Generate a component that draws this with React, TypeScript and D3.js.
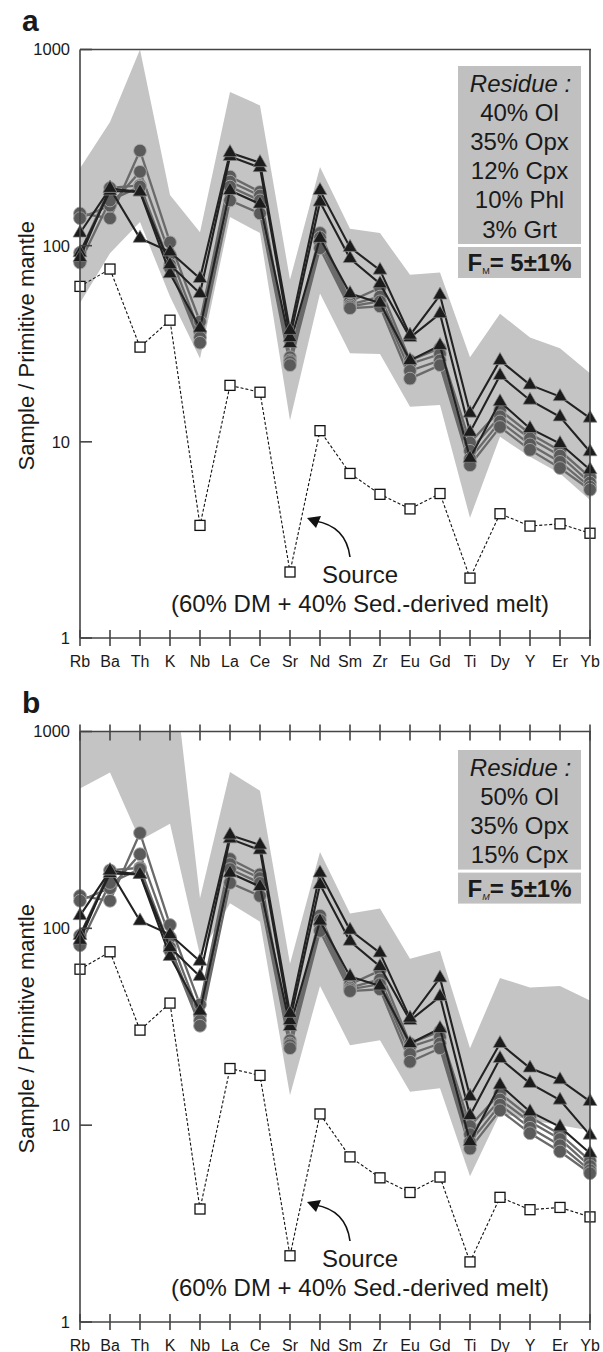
import React from "react";
import * as d3 from "d3";

const elements = ["Rb", "Ba", "Th", "K", "Nb", "La", "Ce", "Sr", "Nd", "Sm", "Zr", "Eu", "Gd", "Ti", "Dy", "Y", "Er", "Yb"];

// Source (60% DM + 40% sediment-derived melt)
const sourceMelt = [62, 76, 30.4, 41.7, 3.75, 19.4, 17.9, 2.17, 11.4, 6.9, 5.4, 4.55, 5.45, 2.02, 4.3, 3.72, 3.82, 3.42];

// Triangle series
const tri1 = [116, 196, 109, 93, 68, 298, 265, 37, 191, 98, 75, 35, 56, 14, 26, 19.5, 17, 13.2];
const tri2 = [87, 196, 188, 80, 57, 285, 250, 34, 167, 86, 64, 34, 45, 11.2, 21.8, 16.3, 13.4, 8.9];
const tri3 = [92, 190, 188, 72, 38, 191, 163, 31.7, 109, 57, 51, 26, 31, 8.25, 16, 11.7, 9.8, 7.2];

// Circle series
const circ1 = [146, 138, 305, 104, 41, 225, 188, 27, 116, 52, 61, 26, 30, 9.9, 14.5, 11, 9, 6.6];
const circ2 = [138, 160, 238, 90, 36, 212, 180, 26, 110, 50, 55, 25, 28, 9.0, 13.5, 10.4, 8.5, 6.2];
const circ3 = [92, 197, 203, 80, 34, 200, 170, 25.5, 104, 49, 52, 23, 26, 8.2, 12.7, 9.7, 7.9, 5.9];
const circ4 = [82, 170, 200, 77, 32, 170, 146, 24.6, 97, 48, 49, 21, 24.6, 7.6, 11.9, 9.1, 7.35, 5.7];

// Grey model-melt envelopes
const bandAUpper = [248, 427, 1000, 181, 117, 607, 519, 67, 252, 122, 116, 71, 73, 27, 45, 34, 30, 22.4];
const bandALower = [51, 91.5, 132, 55, 26.6, 140, 116, 12.9, 57, 28.3, 28, 15.1, 15.4, 4.1, 10.6, 8.4, 6.9, 5.05];
const bandBUpper = [2000, 2000, 2000, 3000, 142, 622, 500, 66, 244, 119, 126, 70, 77, 24.6, 56, 50, 51, 43];
const bandBLower = [513, 619, 280, 340, 73, 134, 108, 14.2, 51, 25.5, 27, 14.8, 15.4, 5.5, 11.5, 10.6, 10, 9.4];

const yTicks = [1, 10, 100, 1000];
const residueA = ["40% Ol", "35% Opx", "12% Cpx", "10% Phl", "3% Grt"];
const residueB = ["50% Ol", "35% Opx", "15% Cpx"];

const FONT = "'Liberation Sans', Arial, Helvetica, sans-serif";
const AXIS = "#444";
const TXT = "#1a1a1a";
const BAND = "#c4c4c4";

const panels = [
  { id: "a", top: 49.5, bottom: 638, upper: bandAUpper, lower: bandALower, residue: residueA, topTicks: false, subItalic: false, boxTop: 66 },
  { id: "b", top: 731.5, bottom: 1322, upper: bandBUpper, lower: bandBLower, residue: residueB, topTicks: true, subItalic: true, boxTop: 750 },
];

const x = d3.scalePoint<string>().domain(elements).range([80, 590]);

function Panel({ p }: { p: typeof panels[number] }) {
  const y = d3.scaleLog().domain([1, 1000]).range([p.bottom, p.top]);
  const clipId = "clip-" + p.id;
  const area = d3
    .area<number>()
    .x((_, i) => x(elements[i]) as number)
    .y0((_, i) => y(p.lower[i]))
    .y1((d) => y(d));
  const line = d3
    .line<number>()
    .x((_, i) => x(elements[i]) as number)
    .y((d) => y(d));
  const tri = d3.symbol().type(d3.symbolTriangle).size(84)() as string;
  const circles = [circ1, circ2, circ3, circ4];
  const tris = [tri3, tri2, tri1];
  const x0 = x(elements[0]) as number;
  const x1 = x(elements[elements.length - 1]) as number;
  const midY = (p.top + p.bottom) / 2 + 2;
  const boxX = 458, boxW = 123;
  const boxTop = p.boxTop;
  const lineH = 29.2;
  const boxH = 32 + lineH * p.residue.length;
  const fTop = boxTop + boxH + 3;
  const arrowTipX = 307;
  const arrowTipY = p.bottom - 120;
  const srcX = 360;

  return (
    <g>
      <defs>
        <clipPath id={clipId}>
          <rect x={x0} y={p.top} width={x1 - x0} height={p.bottom - p.top} />
        </clipPath>
      </defs>
      <path d={area(p.upper) as string} fill={BAND} clipPath={`url(#${clipId})`} />

      {/* residue box */}
      <rect x={boxX} y={boxTop} width={boxW} height={boxH} fill="#c0c0c0" />
      <rect x={boxX} y={fTop} width={boxW} height={31} fill="#c0c0c0" />
      <text x={boxX + boxW / 2 + 1} y={boxTop + 25.5} textAnchor="middle" fontFamily={FONT} fontSize={24} fontStyle="italic" fill={TXT}>
        Residue :
      </text>
      {p.residue.map((r, i) => (
        <text key={r} x={boxX + boxW / 2} y={boxTop + 25.5 + lineH * (i + 1)} textAnchor="middle" fontFamily={FONT} fontSize={24} fill={TXT}>
          {r}
        </text>
      ))}
      <text x={boxX + boxW / 2} y={fTop + 24} textAnchor="middle" fontFamily={FONT} fontSize={24} fontWeight="bold" fill={TXT}>
        F<tspan fontSize={9} fontWeight="normal" fontStyle={p.subItalic ? "italic" : "normal"} dy={3}>M</tspan>
        <tspan dy={-3}>= 5±1%</tspan>
      </text>

      {/* source line */}
      <path d={line(sourceMelt) as string} fill="none" stroke="#111" strokeWidth={1.1} strokeDasharray="3,2" />
      {sourceMelt.map((v, i) => (
        <rect key={"s" + i} x={(x(elements[i]) as number) - 5} y={y(v) - 5} width={10} height={10} fill="#fff" stroke="#111" strokeWidth={1.3} />
      ))}

      {/* circle series */}
      {circles.map((s, k) => (
        <path key={"cl" + k} d={line(s) as string} fill="none" stroke="#6a6a6a" strokeWidth={2.3} />
      ))}
      {circles.map((s, k) =>
        s.map((v, i) => (
          <circle key={"c" + k + "-" + i} cx={x(elements[i]) as number} cy={y(v)} r={6.4} fill="#5a5a5a" stroke="#a8a8a8" strokeWidth={0.9} />
        ))
      )}

      {/* triangle series */}
      {tris.map((s, k) => (
        <path key={"tl" + k} d={line(s) as string} fill="none" stroke="#222" strokeWidth={2.1} />
      ))}
      {tris.map((s, k) =>
        s.map((v, i) => (
          <path key={"t" + k + "-" + i} d={tri} transform={`translate(${x(elements[i])},${y(v)})`} fill="#1c1c1c" stroke="#888" strokeWidth={0.7} />
        ))
      )}

      {/* frame */}
      <line x1={x0} x2={x0} y1={p.top} y2={p.bottom} stroke={AXIS} strokeWidth={1.6} />
      <line x1={x1} x2={x1} y1={p.top} y2={p.bottom} stroke={AXIS} strokeWidth={1.6} />
      <line x1={x0} x2={x1 + 1} y1={p.top} y2={p.top} stroke={AXIS} strokeWidth={1.6} />
      <line x1={x0} x2={x1 + 1} y1={p.bottom} y2={p.bottom} stroke={AXIS} strokeWidth={1.6} />
      {elements.map((e) => (
        <line key={"bt" + e} x1={x(e) as number} x2={x(e) as number} y1={p.bottom - 8} y2={p.bottom + 8} stroke={AXIS} strokeWidth={1.6} />
      ))}
      {p.topTicks &&
        elements.map((e) => (
          <line key={"tt" + e} x1={x(e) as number} x2={x(e) as number} y1={p.top - 7} y2={p.top + 9} stroke={AXIS} strokeWidth={1.6} />
        ))}
      {yTicks.map((t) => (
        <g key={"yt" + t}>
          <line x1={x0} x2={x0 + 12} y1={y(t)} y2={y(t)} stroke={AXIS} strokeWidth={1.6} />
          <text x={70} y={y(t)} dy="0.36em" textAnchor="end" fontFamily={FONT} fontSize={16.5} fill={TXT}>
            {t}
          </text>
        </g>
      ))}
      {elements.map((e) => (
        <text key={"xl" + e} x={x(e) as number} y={p.bottom + 28.5} textAnchor="middle" fontFamily={FONT} fontSize={16} fill={TXT}>
          {e}
        </text>
      ))}
      <text transform={`translate(34,${midY}) rotate(-90)`} textAnchor="middle" fontFamily={FONT} fontSize={22} fill={TXT}>
        Sample / Primitive mantle
      </text>

      {/* annotation */}
      <path d={`M${srcX - 10},${p.bottom - 81} Q${srcX - 14},${p.bottom - 112} ${arrowTipX + 8},${arrowTipY + 3}`} fill="none" stroke="#111" strokeWidth={1.6} />
      <path
        d={`M${arrowTipX},${arrowTipY} L${arrowTipX + 14},${arrowTipY - 2} L${arrowTipX + 9},${arrowTipY + 10} Z`}
        fill="#111"
      />
      <text x={srcX} y={p.bottom - 55} textAnchor="middle" fontFamily={FONT} fontSize={24} fill={TXT}>
        Source
      </text>
      <text x={srcX} y={p.bottom - 26} textAnchor="middle" fontFamily={FONT} fontSize={24} fill={TXT}>
        (60% DM + 40% Sed.-derived melt)
      </text>

      <text x={22} y={p.top - 18.5} fontFamily={FONT} fontSize={30} fontWeight="bold" fill={TXT}>
        {p.id}
      </text>
    </g>
  );
}

export default function App() {
  return (
    <svg width={603} height={1352} viewBox="0 0 603 1352" style={{ position: "absolute", left: 0, top: 0, background: "#fff" }}>
      <rect x={0} y={0} width={603} height={1352} fill="#fff" />
      {panels.map((p) => (
        <Panel key={p.id} p={p} />
      ))}
    </svg>
  );
}
